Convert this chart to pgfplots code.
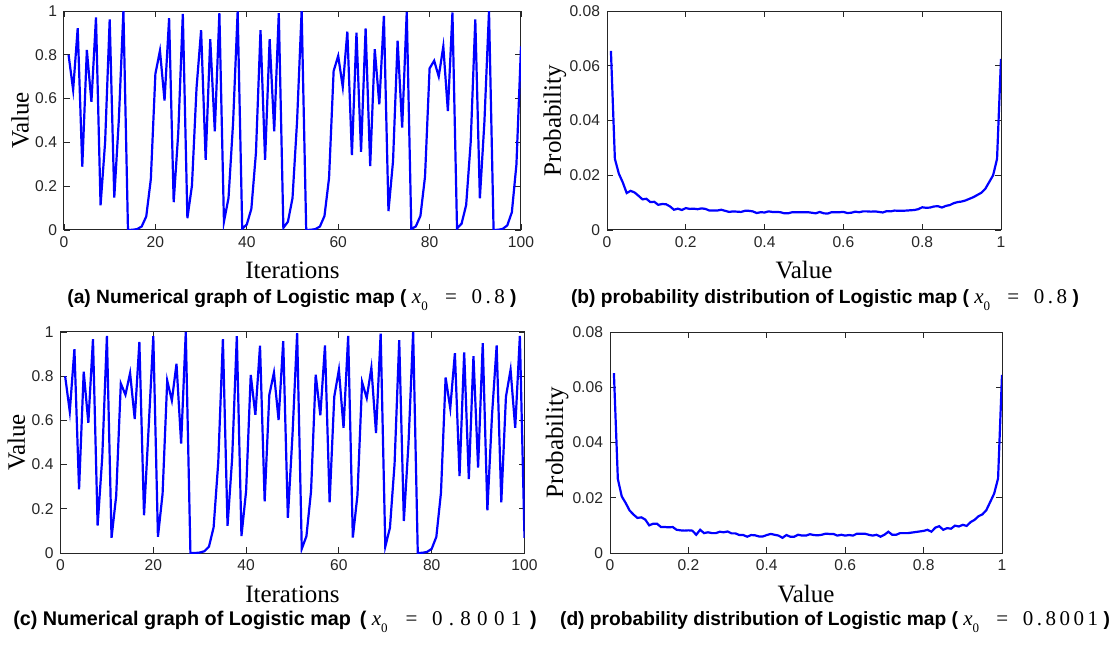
\documentclass[border=0pt]{standalone}
\usepackage{pgfplots}
\pgfplotsset{compat=1.18}
\usepackage{fontspec}
\setmainfont{Liberation Sans}
\newfontfamily\serif{Liberation Serif}
\definecolor{mblue}{RGB}{0,0,255}
\definecolor{frame}{RGB}{38,38,38}

% 1 px of the reference = 0.5pt
\pgfplotsset{
  mat/.style={scale only axis, anchor=south west, clip=true, no markers,
    axis line style={frame,line width=0.5pt}, tick style={frame,line width=0.45pt},
    tick align=inside, major tick length=3pt,
    tick label style={font=\fontsize{7.8}{9}\selectfont, text=frame},
    label style={font=\serif\fontsize{12.5}{14}\selectfont, text=black},
    every axis plot post/.append style={mblue, line width=1.1pt}},
  ts/.style={mat, xmin=0, xmax=100, ymin=0, ymax=1,
    xtick={0,20,40,60,80,100}, xticklabels={0,20,40,60,80,100},
    ytick={0,0.2,0.4,0.6,0.8,1}, yticklabels={0,0.2,0.4,0.6,0.8,1},
    xlabel={Iterations}, ylabel={Value}},
  pd/.style={mat, xmin=0, xmax=1, ymin=0, ymax=0.08,
    xtick={0,0.2,0.4,0.6,0.8,1}, xticklabels={0,0.2,0.4,0.6,0.8,1},
    ytick={0,0.02,0.04,0.06,0.08}, yticklabels={0,0.02,0.04,0.06,0.08},
    scaled y ticks=false, xlabel={Value}, ylabel={Probability}},
}
\newcommand{\capf}{\bfseries\fontsize{9.6}{11}\selectfont}
\newcommand{\xz}[1]{{\mdseries\serif\fontsize{10.5}{11}\selectfont\itshape x}\raisebox{-0.7ex}{\mdseries\serif\fontsize{6.5}{7}\selectfont 0}\hspace{0.9em}{\mdseries\serif\fontsize{10.5}{11}\selectfont =\hspace{0.7em}#1}}

\begin{document}
\begin{tikzpicture}
\path[use as bounding box] (0,0) rectangle (555pt,322pt);

% (a)
\begin{axis}[ts, at={(32pt,207pt)}, width=228.5pt, height=109.5pt,
  xlabel style={at={(axis description cs:0.5,-0.185)}, anchor=center},
  ylabel style={at={(axis description cs:-0.096,0.5)}, anchor=center}]
\addplot coordinates {
(1,0.800)(2,0.640)(3,0.922)(4,0.289)(5,0.822)(6,0.585)(7,0.971)(8,0.113)(9,0.402)(10,0.962)
(11,0.148)(12,0.504)(13,1.000)(14,0.000)(15,0.001)(16,0.004)(17,0.016)(18,0.062)(19,0.232)(20,0.713)
(21,0.819)(22,0.591)(23,0.967)(24,0.127)(25,0.443)(26,0.987)(27,0.054)(28,0.203)(29,0.648)(30,0.912)
(31,0.320)(32,0.871)(33,0.451)(34,0.990)(35,0.038)(36,0.146)(37,0.490)(38,0.998)(39,0.006)(40,0.025)
(41,0.097)(42,0.352)(43,0.912)(44,0.320)(45,0.871)(46,0.451)(47,0.990)(48,0.010)(49,0.038)(50,0.145)
(51,0.496)(52,1.000)(53,0.000)(54,0.001)(55,0.004)(56,0.016)(57,0.064)(58,0.238)(59,0.726)(60,0.795)
(61,0.653)(62,0.906)(63,0.342)(64,0.901)(65,0.357)(66,0.920)(67,0.292)(68,0.826)(69,0.574)(70,0.978)
(71,0.086)(72,0.315)(73,0.864)(74,0.468)(75,0.996)(76,0.004)(77,0.017)(78,0.065)(79,0.244)(80,0.738)
(81,0.773)(82,0.701)(83,0.838)(84,0.543)(85,0.993)(86,0.007)(87,0.029)(88,0.114)(89,0.403)(90,0.962)
(91,0.145)(92,0.496)(93,1.000)(94,0.000)(95,0.001)(96,0.005)(97,0.021)(98,0.081)(99,0.299)(100,0.838)};
\end{axis}

% (b)
\begin{axis}[pd, at={(303.5pt,207pt)}, width=197pt, height=109.5pt,
  xlabel style={at={(axis description cs:0.5,-0.185)}, anchor=center},
  ylabel style={at={(axis description cs:-0.132,0.5)}, anchor=center}]
\addplot coordinates {
(0.01,0.0654)(0.02,0.0260)(0.03,0.0206)(0.04,0.0174)(0.05,0.0135)(0.06,0.0143)(0.07,0.0137)(0.08,0.0125)(0.09,0.0112)(0.10,0.0114)
(0.11,0.0102)(0.12,0.0103)(0.13,0.0092)(0.14,0.0095)(0.15,0.0094)(0.16,0.0086)(0.17,0.0074)(0.18,0.0078)(0.19,0.0073)(0.20,0.0080)
(0.21,0.0077)(0.22,0.0078)(0.23,0.0076)(0.24,0.0079)(0.25,0.0077)(0.26,0.0071)(0.27,0.0071)(0.28,0.0071)(0.29,0.0074)(0.30,0.0070)
(0.31,0.0066)(0.32,0.0068)(0.33,0.0067)(0.34,0.0066)(0.35,0.0070)(0.36,0.0070)(0.37,0.0068)(0.38,0.0062)(0.39,0.0065)(0.40,0.0064)
(0.41,0.0068)(0.42,0.0066)(0.43,0.0066)(0.44,0.0065)(0.45,0.0061)(0.46,0.0061)(0.47,0.0065)(0.48,0.0065)(0.49,0.0065)(0.50,0.0065)
(0.51,0.0065)(0.52,0.0063)(0.53,0.0061)(0.54,0.0066)(0.55,0.0061)(0.56,0.0060)(0.57,0.0065)(0.58,0.0065)(0.59,0.0065)(0.60,0.0066)
(0.61,0.0062)(0.62,0.0063)(0.63,0.0067)(0.64,0.0065)(0.65,0.0068)(0.66,0.0068)(0.67,0.0067)(0.68,0.0068)(0.69,0.0066)(0.70,0.0064)
(0.71,0.0069)(0.72,0.0068)(0.73,0.0071)(0.74,0.0070)(0.75,0.0070)(0.76,0.0071)(0.77,0.0072)(0.78,0.0073)(0.79,0.0076)(0.80,0.0083)
(0.81,0.0081)(0.82,0.0082)(0.83,0.0086)(0.84,0.0087)(0.85,0.0082)(0.86,0.0088)(0.87,0.0091)(0.88,0.0098)(0.89,0.0102)(0.90,0.0104)
(0.91,0.0108)(0.92,0.0114)(0.93,0.0120)(0.94,0.0128)(0.95,0.0136)(0.96,0.0150)(0.97,0.0175)(0.98,0.0200)(0.99,0.0260)(1.00,0.0625)};
\end{axis}

% (c)
\begin{axis}[ts, at={(30.25pt,45.5pt)}, width=232pt, height=110.5pt,
  xlabel style={at={(axis description cs:0.5,-0.186)}, anchor=center},
  ylabel style={at={(axis description cs:-0.095,0.5)}, anchor=center}]
\addplot coordinates {
(1,0.800)(2,0.640)(3,0.922)(4,0.288)(5,0.820)(6,0.589)(7,0.968)(8,0.124)(9,0.434)(10,0.982)
(11,0.069)(12,0.258)(13,0.767)(14,0.716)(15,0.814)(16,0.606)(17,0.955)(18,0.171)(19,0.568)(20,0.981)
(21,0.073)(22,0.268)(23,0.780)(24,0.690)(25,0.856)(26,0.495)(27,1.000)(28,0.000)(29,0.000)(30,0.002)
(31,0.008)(32,0.029)(33,0.116)(34,0.411)(35,0.968)(36,0.123)(37,0.430)(38,0.981)(39,0.077)(40,0.280)
(41,0.806)(42,0.625)(43,0.938)(44,0.234)(45,0.715)(46,0.816)(47,0.602)(48,0.959)(49,0.159)(50,0.535)
(51,0.995)(52,0.019)(53,0.076)(54,0.280)(55,0.807)(56,0.623)(57,0.939)(58,0.229)(59,0.707)(60,0.829)
(61,0.566)(62,0.982)(63,0.070)(64,0.262)(65,0.773)(66,0.701)(67,0.838)(68,0.543)(69,0.993)(70,0.029)
(71,0.114)(72,0.404)(73,0.963)(74,0.145)(75,0.496)(76,1.000)(77,0.000)(78,0.001)(79,0.005)(80,0.019)
(81,0.073)(82,0.273)(83,0.794)(84,0.655)(85,0.904)(86,0.348)(87,0.908)(88,0.335)(89,0.891)(90,0.387)
(91,0.949)(92,0.193)(93,0.624)(94,0.939)(95,0.229)(96,0.707)(97,0.829)(98,0.566)(99,0.982)(100,0.069)};
\end{axis}

% (d)
\begin{axis}[pd, at={(305pt,45.5pt)}, width=196pt, height=110.5pt,
  xlabel style={at={(axis description cs:0.5,-0.186)}, anchor=center},
  ylabel style={at={(axis description cs:-0.135,0.5)}, anchor=center}]
\addplot coordinates {
(0.01,0.0651)(0.02,0.0268)(0.03,0.0205)(0.04,0.0181)(0.05,0.0154)(0.06,0.0139)(0.07,0.0127)(0.08,0.0129)(0.09,0.0121)(0.10,0.0100)
(0.11,0.0106)(0.12,0.0106)(0.13,0.0094)(0.14,0.0094)(0.15,0.0093)(0.16,0.0094)(0.17,0.0084)(0.18,0.0082)(0.19,0.0081)(0.20,0.0082)
(0.21,0.0081)(0.22,0.0066)(0.23,0.0084)(0.24,0.0072)(0.25,0.0075)(0.26,0.0072)(0.27,0.0072)(0.28,0.0077)(0.29,0.0075)(0.30,0.0078)
(0.31,0.0071)(0.32,0.0071)(0.33,0.0065)(0.34,0.0065)(0.35,0.0059)(0.36,0.0065)(0.37,0.0064)(0.38,0.0060)(0.39,0.0060)(0.40,0.0065)
(0.41,0.0069)(0.42,0.0066)(0.43,0.0063)(0.44,0.0055)(0.45,0.0065)(0.46,0.0059)(0.47,0.0059)(0.48,0.0066)(0.49,0.0063)(0.50,0.0063)
(0.51,0.0068)(0.52,0.0065)(0.53,0.0064)(0.54,0.0066)(0.55,0.0070)(0.56,0.0069)(0.57,0.0069)(0.58,0.0063)(0.59,0.0066)(0.60,0.0063)
(0.61,0.0065)(0.62,0.0063)(0.63,0.0070)(0.64,0.0070)(0.65,0.0070)(0.66,0.0066)(0.67,0.0063)(0.68,0.0066)(0.69,0.0059)(0.70,0.0066)
(0.71,0.0077)(0.72,0.0066)(0.73,0.0066)(0.74,0.0072)(0.75,0.0072)(0.76,0.0072)(0.77,0.0074)(0.78,0.0076)(0.79,0.0078)(0.80,0.0080)
(0.81,0.0084)(0.82,0.0077)(0.83,0.0092)(0.84,0.0097)(0.85,0.0084)(0.86,0.0090)(0.87,0.0088)(0.88,0.0099)(0.89,0.0096)(0.90,0.0102)
(0.91,0.0098)(0.92,0.0112)(0.93,0.0120)(0.94,0.0133)(0.95,0.0140)(0.96,0.0155)(0.97,0.0185)(0.98,0.0215)(0.99,0.0270)(1.00,0.0645)};
\end{axis}

% captions
\node[font=\capf] at (146pt,172pt) {(a) Numerical graph of Logistic map ( \xz{0\,.\,8} )};
\node[font=\capf] at (412.5pt,172pt) {(b) probability distribution of Logistic map ( \xz{0\,.\,8} )};
\node[font=\bfseries\fontsize{9.9}{11}\selectfont] at (137.5pt,11pt) {(c) Numerical graph of Logistic map \,( \xz{0\hspace{0.3em}.\hspace{0.3em}8\hspace{0.3em}0\hspace{0.3em}0\hspace{0.3em}1} \,)};
\node[font=\capf] at (417.5pt,11pt) {(d) probability distribution of Logistic map ( \xz{0\,.\,8\,0\,0\,1} )};
\end{tikzpicture}
\end{document}
